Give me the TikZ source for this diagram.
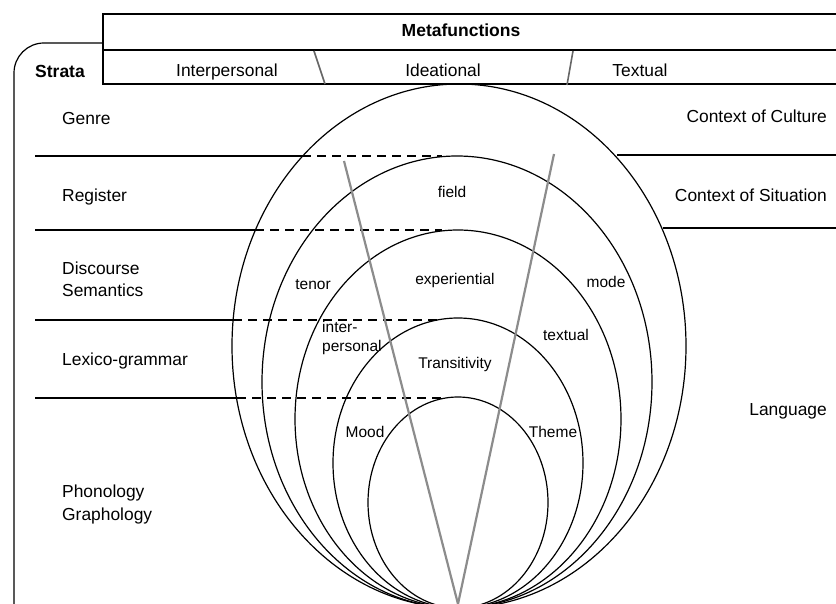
\documentclass[tikz,border=0pt]{standalone}
\usepackage{fontspec}
\setmainfont{Liberation Sans}
\begin{document}
\begin{tikzpicture}[x=1pt,y=-1pt,
	lbl/.style={font=\fontsize{17.4}{20}\selectfont,inner sep=0pt},
	inlbl/.style={font=\fontsize{15.5}{18}\selectfont,inner sep=0pt},
	rim/.style={line width=1.2pt},
	vline/.style={line width=2.2pt,black!45}]
				\useasboundingbox (0,0) rectangle (836,604);
				\coordinate (apex) at (458,604);
				\coordinate (Vl) at (344,161);
				\coordinate (Vr) at (554,154);
				\coordinate (Hl1) at (314,51);
				\coordinate (Hl2) at (325,84);
				\coordinate (Hr1) at (573,51);
				\coordinate (Hr2) at (567,85);
				\draw[rim] (836,14)--(103,14)--(103,84)--(836,84);
				\draw[rim] (103,50)--(836,50);
				\draw[rim,rounded corners=30pt] (103,43)--(14,43)--(14,604);
				\draw[rim] (459,346) ellipse [x radius=227pt,y radius=262pt];
				\draw[rim] (457,382) ellipse [x radius=195pt,y radius=226pt];
				\draw[rim] (458,419) ellipse [x radius=163pt,y radius=189pt];
				\draw[rim] (458,463) ellipse [x radius=125pt,y radius=145pt];
				\draw[rim] (458,502.5) ellipse [x radius=90pt,y radius=105.5pt];
				\foreach \y/\xa in {156/302,230/255,320/233,398/237} {
					\draw[rim] (35,\y)--(\xa,\y);
					\draw[rim,dash pattern=on 9pt off 6pt] (\xa,\y)--(442,\y);
				}
				\draw[rim] (617,155)--(836,155);
				\draw[rim] (663,228)--(836,228);
				\draw[vline] (Vl)--(apex)--(Vr);
				\draw[vline,black!60,line width=1.6pt] (Hl1)--(Hl2);
				\draw[vline,black!60,line width=1.6pt] (Hr1)--(Hr2);
				\node[lbl,font=\fontsize{17.5}{20}\selectfont\bfseries,anchor=base] (meta) at (461,37) {Metafunctions};
				\node[lbl,font=\fontsize{17.5}{20}\selectfont\bfseries,anchor=base west] (strata) at (35,78) {Strata};
				\node[lbl,anchor=base] (inter) at (227,77) {Interpersonal};
				\node[lbl,anchor=base] (idea) at (443,77) {Ideational};
				\node[lbl,anchor=base] (text) at (640,77) {Textual};
				\node[lbl,anchor=base west] (genre) at (62,125) {Genre};
				\node[lbl,anchor=base west] (register) at (62,202) {Register};
				\node[lbl,anchor=base west] (discourse) at (62,275) {Discourse};
				\node[lbl,anchor=base west] (semantics) at (62,297) {Semantics};
				\node[lbl,anchor=base west] (lexgram) at (62,366) {Lexico-grammar};
				\node[lbl,anchor=base west] (phon) at (62,497) {Phonology};
				\node[lbl,anchor=base west] (graph) at (62,520) {Graphology};
				\node[lbl,anchor=base east] (culture) at (827,123) {Context of Culture};
				\node[lbl,anchor=base east] (situation) at (827,202) {Context of Situation};
				\node[lbl,anchor=base east] (language) at (827,415) {Language};
				\node[inlbl,anchor=base] (field) at (452,198) {field};
				\node[inlbl,anchor=base] (tenor) at (313,290) {tenor};
				\node[inlbl,anchor=base] (exper) at (455,285) {experiential};
				\node[inlbl,anchor=base] (mode) at (606,288) {mode};
				\node[inlbl,anchor=base west] (interA) at (322,333) {inter-};
				\node[inlbl,anchor=base west] (interB) at (322,352) {personal};
				\node[inlbl,anchor=base] (textual) at (566,341) {textual};
				\node[inlbl,anchor=base] (trans) at (455,368) {Transitivity};
				\node[inlbl,anchor=base] (mood) at (365,437) {Mood};
				\node[inlbl,anchor=base] (theme) at (553,437) {Theme};
			\end{tikzpicture}
\end{document}
